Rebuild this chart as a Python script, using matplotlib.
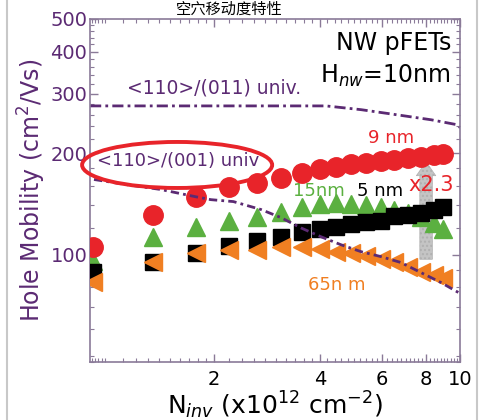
import matplotlib
matplotlib.use("Agg")
import matplotlib.pyplot as plt
from matplotlib.patches import Ellipse
from matplotlib.ticker import FixedLocator, NullFormatter, FixedFormatter, LogLocator
from matplotlib.lines import Line2D

plt.rcParams['font.family'] = ['DejaVu Sans', 'Noto Sans CJK SC']

# ---- data ----
n_inv = [0.91, 1.34, 1.78, 2.2, 2.65, 3.1, 3.55, 4.0, 4.45, 4.9, 5.4, 5.95, 6.5, 7.1, 7.75, 8.4, 8.95]
mu_9nm = [105, 131, 148, 159, 163, 169, 175, 179, 182, 185, 187, 189, 191, 194, 195, 198, 199]
mu_15nm = [96, 113, 121, 126, 129, 134, 138, 141, 142, 141, 140, 138, 136, 133, 129, 124, 119]
mu_5nm = [89, 95, 101, 106, 110, 113, 117, 119, 121, 123, 125, 126, 130, 131, 133, 136, 138]
mu_65nm = [83, 95, 101, 103, 103.5, 105, 105, 104, 102, 101, 99, 97, 95, 92, 89, 87, 85]

univ011_x = [0.89, 4.16, 5.23, 6.57, 8.28, 9.74, 10.0]
univ011_y = [276, 276, 269, 260, 251, 243, 238]

univ001_x = [0.913, 1.14, 1.41, 1.77, 1.96, 2.27, 2.72, 3.10, 3.53, 4.02, 4.58, 5.23, 5.96, 6.79, 7.74, 8.82, 9.88]
univ001_y = [167, 161, 156, 148.5, 145.5, 143.6, 136, 128.7, 120, 113, 107, 102, 98.6, 94.7, 88.4, 82.6, 77.2]

xticks = [2, 4, 6, 8, 10]
xticklabels = ['2', '4', '6', '8', '10']
yticks = [100, 200, 300, 400, 500]
yticklabels = ['100', '200', '300', '400', '500']

purple = '#5b2a73'
spine_c = '#8a7a98'
red = '#e8242a'
green = '#5bb040'
orange = '#f07f22'

fig = plt.figure(figsize=(4.87, 4.2), dpi=100)
ax = fig.add_axes([0.185, 0.138, 0.76, 0.817])
ax.set_xscale('log')
ax.set_yscale('log')
ax.set_xlim(0.89, 10)
ax.set_ylim(48, 500)

# universal curves
ax.plot(univ011_x, univ011_y, color=purple, lw=2, linestyle=(0, (4, 1.5, 1, 1.5)), zorder=2)
ax.plot(univ001_x, univ001_y, color=purple, lw=2, linestyle=(0, (3, 1.5, 1, 1.5)), zorder=7)

# grey arrow
ax.annotate('', xy=(8.0, 192), xytext=(8.0, 95),
            arrowprops=dict(arrowstyle='simple,head_width=1.4,head_length=1.0,tail_width=0.9',
                            facecolor='#c4c4c4', edgecolor='#b0b0b0', hatch='....', lw=0.5),
            zorder=1)

ax.plot(n_inv, mu_15nm, linestyle='none', marker='^', color=green, ms=13, zorder=3)
ax.plot(n_inv, mu_5nm, linestyle='none', marker='s', color='black', ms=11, zorder=4)
ax.plot(n_inv, mu_65nm, linestyle='none', marker='<', color=orange, ms=13, mec=orange, zorder=5)
ax.plot(n_inv, mu_9nm, linestyle='none', marker='o', color=red, ms=14, zorder=6)

# texts
ax.text(2.0, 312, '<110>/(011) univ.', color=purple, fontsize=13.5, ha='center', va='center')
ax.text(1.58, 189, '<110>/(001) univ', color=purple, fontsize=13, ha='center', va='center', zorder=8)
ell = Ellipse(((177 - 90) / 370, 1 - (165 - 19) / 343), 190 / 370, 46 / 343, transform=ax.transAxes,
              fill=False, edgecolor=red, lw=2.8, zorder=9, clip_on=False)
ax.add_patch(ell)
ax.text(0.975, 0.93, 'NW pFETs', transform=ax.transAxes, fontsize=17, ha='right', va='center', color='black')
ax.text(0.975, 0.835, 'H$_{nw}$=10nm', transform=ax.transAxes, fontsize=17, ha='right', va='center', color='black')
ax.text(6.36, 222, '9 nm', color=red, fontsize=13, ha='center', va='center')
ax.text(3.97, 154, '15nm', color=green, fontsize=13, ha='center', va='center')
ax.text(5.92, 154, '5 nm', color='black', fontsize=13, ha='center', va='center')
ax.text(8.28, 161, 'x2.3', color=red, fontsize=15, ha='center', va='center', zorder=8)
ax.text(4.47, 81.5, '65n m', color=orange, fontsize=13, ha='center', va='center')

# axes styling
for s in ax.spines.values():
    s.set_color(spine_c)
    s.set_linewidth(1.2)
ax.xaxis.set_major_locator(FixedLocator(xticks))
ax.xaxis.set_major_formatter(FixedFormatter(xticklabels))
ax.xaxis.set_minor_locator(LogLocator(base=10, subs=[1.1, 1.2, 1.3, 1.4, 1.5, 1.6, 1.7, 1.8, 1.9, 2.2, 2.4, 2.6, 2.8, 3, 3.2, 3.4, 3.6, 3.8, 4.2, 4.4, 4.6, 4.8, 5, 5.2, 5.4, 5.6, 5.8, 6.2, 6.4, 6.6, 6.8, 7, 7.2, 7.4, 7.6, 7.8, 8.2, 8.4, 8.6, 8.8, 9, 9.2, 9.4, 9.6, 9.8]))
ax.xaxis.set_minor_formatter(NullFormatter())
ax.yaxis.set_major_locator(FixedLocator(yticks))
ax.yaxis.set_major_formatter(FixedFormatter(yticklabels))
ax.yaxis.set_minor_locator(LogLocator(base=10, subs=[0.5, 0.6, 0.7, 0.8, 0.9, 1.2, 1.4, 1.6, 1.8, 2.2, 2.4, 2.6, 2.8, 3.2, 3.4, 3.6, 3.8, 4.2, 4.4, 4.6, 4.8]))
ax.yaxis.set_minor_formatter(NullFormatter())
ax.tick_params(which='both', direction='in', top=True, right=True, color=spine_c)
ax.tick_params(which='major', length=6, width=1)
ax.tick_params(which='minor', length=3, width=0.8)
ax.tick_params(axis='x', labelsize=14, labelcolor='black', pad=6)
ax.tick_params(axis='y', labelsize=14, labelcolor=purple, pad=2)

ax.set_ylabel('Hole Mobility (cm$^2$/Vs)', color=purple, fontsize=17, labelpad=2)
ax.set_xlabel('N$_{inv}$ (x10$^{12}$ cm$^{-2}$)', color='black', fontsize=18, labelpad=0)

# title at top (shrunk to fit in the band above the axes)
fig.text(0.47, 0.999, '空穴移动度特性', fontsize=11, ha='center', va='top',
         family=['Noto Sans CJK SC', 'DejaVu Sans'], color='black')

# image frame lines
fig.add_artist(Line2D([7 / 487, 7 / 487], [0, 1], transform=fig.transFigure, color='#c8c8c8', lw=1.5))
fig.add_artist(Line2D([477 / 487, 477 / 487], [0, 1], transform=fig.transFigure, color='#c8c8c8', lw=1.5))

fig.savefig('out.png', dpi=100)
